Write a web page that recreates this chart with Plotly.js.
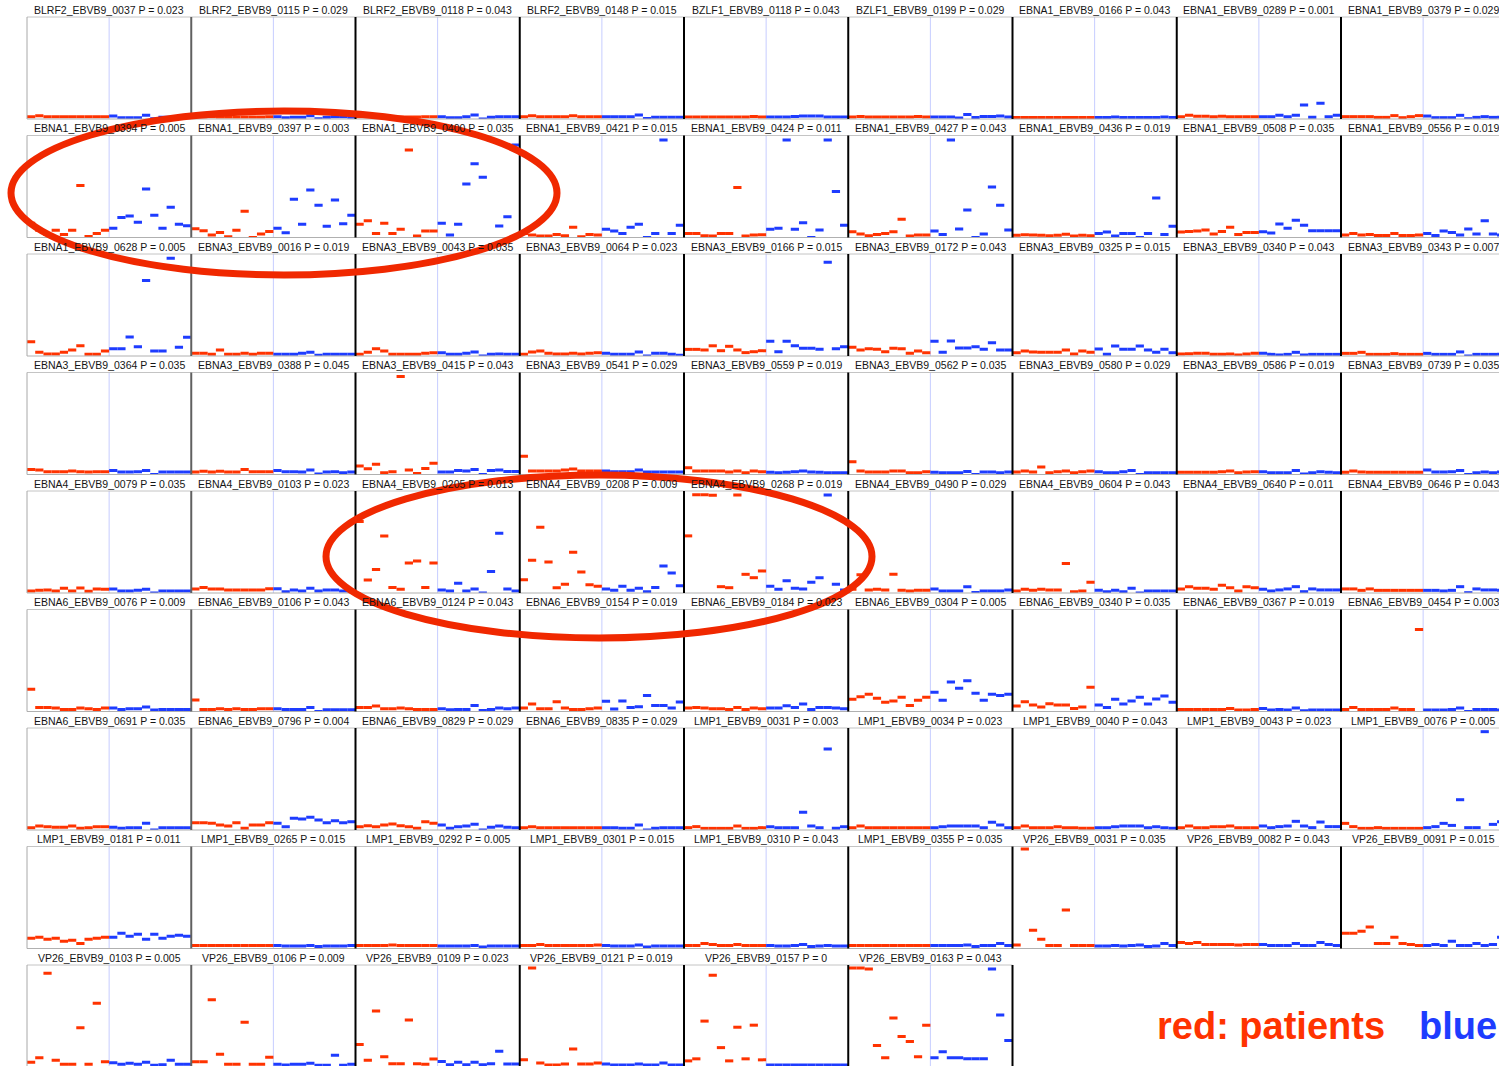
<!DOCTYPE html>
<html><head><meta charset="utf-8">
<script src="https://cdn.plot.ly/plotly-3.0.1.min.js"></script>
<style>html,body{margin:0;padding:0;background:#fff;overflow:hidden}#chart{width:1499px;height:1066px}</style>
</head><body><div id="chart"></div>
<script>
const probes = [
'BLRF2_EBVB9_0037','BLRF2_EBVB9_0115','BLRF2_EBVB9_0118','BLRF2_EBVB9_0148','BZLF1_EBVB9_0118','BZLF1_EBVB9_0199','EBNA1_EBVB9_0166','EBNA1_EBVB9_0289','EBNA1_EBVB9_0379',
'EBNA1_EBVB9_0394','EBNA1_EBVB9_0397','EBNA1_EBVB9_0400','EBNA1_EBVB9_0421','EBNA1_EBVB9_0424','EBNA1_EBVB9_0427','EBNA1_EBVB9_0436','EBNA1_EBVB9_0508','EBNA1_EBVB9_0556',
'EBNA1_EBVB9_0628','EBNA3_EBVB9_0016','EBNA3_EBVB9_0043','EBNA3_EBVB9_0064','EBNA3_EBVB9_0166','EBNA3_EBVB9_0172','EBNA3_EBVB9_0325','EBNA3_EBVB9_0340','EBNA3_EBVB9_0343',
'EBNA3_EBVB9_0364','EBNA3_EBVB9_0388','EBNA3_EBVB9_0415','EBNA3_EBVB9_0541','EBNA3_EBVB9_0559','EBNA3_EBVB9_0562','EBNA3_EBVB9_0580','EBNA3_EBVB9_0586','EBNA3_EBVB9_0739',
'EBNA4_EBVB9_0079','EBNA4_EBVB9_0103','EBNA4_EBVB9_0205','EBNA4_EBVB9_0208','EBNA4_EBVB9_0268','EBNA4_EBVB9_0490','EBNA4_EBVB9_0604','EBNA4_EBVB9_0640','EBNA4_EBVB9_0646',
'EBNA6_EBVB9_0076','EBNA6_EBVB9_0106','EBNA6_EBVB9_0124','EBNA6_EBVB9_0154','EBNA6_EBVB9_0184','EBNA6_EBVB9_0304','EBNA6_EBVB9_0340','EBNA6_EBVB9_0367','EBNA6_EBVB9_0454',
'EBNA6_EBVB9_0691','EBNA6_EBVB9_0796','EBNA6_EBVB9_0829','EBNA6_EBVB9_0835','LMP1_EBVB9_0031','LMP1_EBVB9_0034','LMP1_EBVB9_0040','LMP1_EBVB9_0043','LMP1_EBVB9_0076',
'LMP1_EBVB9_0181','LMP1_EBVB9_0265','LMP1_EBVB9_0292','LMP1_EBVB9_0301','LMP1_EBVB9_0310','LMP1_EBVB9_0355','VP26_EBVB9_0031','VP26_EBVB9_0082','VP26_EBVB9_0091',
'VP26_EBVB9_0103','VP26_EBVB9_0106','VP26_EBVB9_0109','VP26_EBVB9_0121','VP26_EBVB9_0157','VP26_EBVB9_0163'];

const pValues = [
'0.023','0.029','0.043','0.015','0.043','0.029','0.043','0.001','0.029',
'0.005','0.003','0.035','0.015','0.011','0.043','0.019','0.035','0.019',
'0.005','0.019','0.035','0.023','0.015','0.043','0.015','0.043','0.007',
'0.035','0.045','0.043','0.029','0.019','0.035','0.029','0.019','0.035',
'0.035','0.023','0.013','0.009','0.019','0.029','0.043','0.011','0.043',
'0.009','0.043','0.043','0.019','0.023','0.005','0.035','0.019','0.003',
'0.035','0.004','0.029','0.029','0.003','0.023','0.043','0.023','0.005',
'0.011','0.015','0.005','0.015','0.043','0.035','0.035','0.043','0.015',
'0.005','0.009','0.023','0.019','0','0.043'];

const patients = [
[2.3,3.3,2.3,2.3,2.3,2.3,2.3,2.3,2.3,2.3],[2,2,2.3,2,2,2,2,2,2,2.3],[2.3,2.3,2,2,2.3,2,2,2,2.3,2.3],[2.3,3.3,2.3,2.3,2.3,2.3,3.3,2.3,2.3,2.3],[2,2,2,2,2,2,2,2,2.5,2],[2,2.5,2,2,2,2,2,2,2.5,2],[1.5,1.5,1.5,1.5,1.5,1.5,1.5,1.5,1.5,1.5],[2.3,3.6,2.6,2.6,2.3,2.6,2.3,2.3,2.3,2.3],[2.3,2.3,2.3,2.3,1.6,1.6,3.3,1.3,2.3,3.3],
[14,7,3,7,3,7,51,1,4,7],[8.7,6.7,2.5,5,0.8,7,25.7,0,3.4,6],[12.9,16.5,4,13.9,4,8,85.8,1.5,6.4,6.4],[4,2.5,1.5,1.5,3,1.8,10,0.8,3,2.5],[4,4,1.8,1.5,4,4,49,1.5,2.5,2.8],[5.7,3.4,1.8,3,4,5.7,18,1.5,2.5,2.5],[2.1,2.8,2.5,2.1,1.8,2.1,3.1,1.5,2.1,1.8],[5.4,6,6.4,7.4,3.4,6,10,3,5,5],[2.5,4,2.5,3,2,2,3.8,2,2,2.5],
[14,3.6,2,2,3.6,6,10,1.6,1.6,5],[2.6,2.6,1.6,5.9,1.6,1.6,2.6,1.6,2.6,2.6],[1.6,3.6,7.2,5,1.6,1.6,1.6,1.6,2.6,3.3],[1.6,4,5,2.6,2,2,2.6,2,2.6,3.3],[6.5,6.5,5.9,10,5.2,9.5,5.9,3.3,4.2,5.2],[8.5,5.9,7.2,6.5,4.2,7.5,7.2,2.6,5,3.3],[3.3,5,4,3.6,3.6,3.6,5.9,2,5,3.6],[2,2.3,2.6,2.6,1.6,1.6,2,1,2,2.6],[2.6,2.6,3.6,1.6,1.6,1.6,2.3,1.6,1.6,1.6],
[5,4.4,2.8,2.8,2.8,3.4,2.8,2.5,2.8,2.8],[2.5,3.1,2.5,3.1,2.5,2.5,5,2.8,2.8,2.8],[8.3,5.7,10,1.8,2.8,96,4.4,1.1,6,11],[18,3.4,3.4,3.4,3.4,4.4,5.4,3.4,3.4,3.4],[6.7,3.4,3.4,3.4,3.4,2.5,3.4,1.8,3.4,2.8],[12.6,3.4,2.5,2.5,2.5,3.4,3.4,1.8,1.8,2.8],[2.5,3.4,2.5,7.4,1.8,2.8,3.4,1.8,2.8,3.4],[2.1,2.1,2.1,2.1,2.1,2.8,3.4,1.8,2.5,2.8],[2.1,3.4,2.5,2.1,2.1,2.1,2.1,2.1,2.1,2.1],
[2,2.6,3,2,4.6,2,4.9,1.6,4,3.6],[4,5.5,4,4,3,3,3,3,3,4.2],[70,12.7,23,56,5.5,3.6,29.4,31.4,5.5,29.4],[13,32,64.4,30.4,5.2,8.5,40,20.6,8,6.5],[56,96.4,96.4,95.8,6.2,5.2,96,18.3,15,21.6],[3.6,18,3,3.6,3,18.3,2.6,2,2.6,2.6],[2,3.6,2.6,3.6,3,3,29,1.3,2,10.5],[4,6.2,4.6,4.6,3.6,7.5,5.2,2,6.2,5.2],[4,4,2.6,4,2.6,2.6,2.6,2.6,2.6,2.6],
[21.7,4,4,3.4,2,2,3.4,2.8,2,3.4],[11.3,2,2,2.8,2,2.8,2,2,2.8,2.8],[4,4,5.4,2.8,2.8,3.4,2.8,2,2,2],[3.4,7.3,2.8,2.8,9.6,3.4,2,2,2.8,3.4],[3.4,4,3.4,2.8,2.8,2,4,2,3.4,2.8],[12,14.5,16.8,12.9,9,10.3,13.9,6,11,13.9],[5.4,9.6,6.4,4.4,7.7,6.4,6.4,3,4.4,23.7],[2,2,2,2,2,2,3,1.5,1.5,2],[2,4,2,2,2,2,3.4,2,2,80.5],
[2.3,4,3.3,2.6,2.6,4,1.6,2.3,3.3,3.3],[7.2,7.2,6.5,5,4,7.2,1.6,5,5,7.2],[3.3,4.2,3.3,4.9,5.9,4.2,3.3,1.6,8.2,6.5],[2.3,3.3,2.3,2.3,2.3,2.3,2.3,2.3,2.3,2.3],[2.3,3.3,1.6,1.6,1.6,1.6,3.9,1.6,1.6,2.3],[2.3,3.9,2.3,2.3,2.3,2.3,2.3,2.3,2.3,2.3],[2.3,3.9,2.3,2.3,2.3,3.3,2.3,2.3,1.6,1.6],[2.3,3.9,2.3,2.3,3.3,3.3,3.9,2.3,2.3,2.3],[6.5,3.3,1.6,1.6,2.3,1.6,1.6,1.6,1.6,1.6],
[10,11,9,10,7,8,5,9,10,11],[3,3,3,3,3,3,3,3,3,3],[3,3,3,3,3.5,3,3,3,3,3],[3,3,4,3,3,3,3,3,3,3.5],[3,3,5,4,3,3,4,3,3,3],[3,3,3,3,3,3,3,3,3,3],[3.4,97.5,18,9,3,3,37.7,3,3,3],[6,5,6,4,4,4,4,3.5,4,4],[15,15,17,21,5,5,11,5,4,3],
[4.6,9,91.8,6.5,2.6,2.6,38.6,2.6,62.4,5.2],[5.2,5.2,66,12.4,2.6,2.6,43.8,2.6,2.6,9.5],[22,6.5,55,10,3.3,3.3,46,3.3,2.6,7.8],[7,97,4,2,2,3,17.6,3,3,4],[6,8,45,90,19,6,39,8,41,7],[97,97,96,21,9,48,30,25,10,41]];

const controls = [
[2.9,1.3,1.3,1.3,3.6,0.3,1.6,1.6,1.6,1.6],[2.3,1.3,1.6,1.6,3.3,0.3,1.6,2.3,2.3,1.6],[2.3,1.3,1.3,2.3,3.9,0,1.6,2.3,2.3,2.3],[2.3,2.3,2.3,2.3,3.9,0.6,1.6,1.6,1.6,1.6],[2,2,2,2.5,3,3,3,2,2,2],[2,2,2,1,4.5,1.5,2.5,2.5,3,2],[1.5,1.5,2,1.5,1.5,1.5,1.5,1.5,2,1.5],[2.3,2.3,3.6,2.3,3.6,13.7,1.6,15.4,2.3,3.6],[2.9,1.3,1.3,1.3,3.6,0.3,1.6,2.3,1.6,1.6],
[9,19.5,21,15,47.5,21.7,9,29.6,13,11.6],[9,4.7,37.4,13,46.6,31.5,11,36.8,13.6,21.7],[13.9,2.5,12.9,52.4,72.4,59,95.6,11.3,20.4,90.7],[8,6.4,4,10,12.9,0,4,95.6,4,12],[8,9,95.6,8,14.5,0,7.4,95.6,45,12],[6.4,3,95.6,8.3,27,0,3.4,49.5,31.5,7.4],[4,5.4,1.5,4,4,0,4,38.7,3,11],[5.7,4.4,13.2,9,17,12,6.7,6.7,6.7,6.7],[3.8,2,6.4,5,2.5,8.3,3.4,16.5,3.4,2.5],
[7.2,7.2,18.6,9,74,5,5,95.8,8.5,18.3],[1.6,1.6,1.6,2.6,3.6,0.7,1.6,1.6,1.6,1.6],[3.3,1.6,1.6,2.6,4,0,1.6,2,1.6,1.6],[2.6,1.6,1.6,1.6,4,0,2.6,2.6,1.6,0.7],[14.4,4.2,14.4,10,7.5,7.5,6.5,91.8,7.2,9],[14.4,3.6,14.7,7.8,7.8,9,6.5,13,5.9,5.9],[6.9,1.6,9.8,6.5,6.5,9.8,5.9,3.6,6.5,3.3],[2.6,1.6,1,1.6,3.6,1,1.6,1.6,1.6,1.6],[2.6,1.6,1.6,1.6,4,0,1.6,1.6,1.6,1.6],
[3.8,2.5,2.5,2.8,4,0,2.5,2.5,2.5,2.5],[3.8,2.8,2.8,2.5,4.4,0.5,2.5,2.8,1.8,2.5],[2.5,2.5,4,3.4,5,0,4,4.4,3,3],[3.4,2.8,2.8,2.8,4.4,2.5,2.5,2.5,2.5,2.5],[2.1,1.8,2.1,2.8,3.4,2.5,2.1,1.8,1.8,1.8],[2.1,1.8,1.8,1.8,3,0,2.5,2.5,1.8,2.5],[2.8,1.8,1.8,2.8,3.8,0,1.8,1.8,1.8,1.8],[2.8,1.8,1.8,1.8,3.8,0.5,1.8,2.8,2.1,1.8],[4.4,2.5,2.5,2.8,4,0,1.8,2.5,1.8,2.5],
[4,2,2,2.6,3.6,0,2,2,2,2],[4.2,1.3,3,2,4.6,2,3,3,2,2],[3,2,9.5,2,4,0,21,58.5,4,2],[4,2.6,6.5,2.6,4.6,1.3,5.5,26.5,19.6,7.2],[6.5,3.6,12,4.6,4,10.5,15,96,8.5,3],[4,2,2,2,6.2,0.6,2,2,2,3],[2.6,1.3,2.6,1.3,4.6,0,2,2,2,2],[3.6,2,3,4,6.2,1.3,4,3,3,3],[2.6,2.6,2,2.6,6.2,0.3,4,3,3,2.6],
[3.4,2,2.8,2.8,4.4,1.5,2,2,2,2],[2.8,2,2,2,4,0,1.8,1.8,1.8,1.8],[2.8,1.8,2,2,6,1,2,3.4,2.8,3.4],[10,2.5,10.3,4,4.7,15.8,6,6,3.4,9.3],[3.4,3.4,5.7,4,7.3,2,4,4,3.4,2.8],[18.8,11,29,22.7,30.2,17.8,11,17,15.8,16.8],[6.4,3.8,12,7.3,10.3,13.9,7.3,12.3,15.2,9],[3,1.5,2,1.5,3.4,0.8,1.5,1.5,1.5,1.5],[1.5,1.5,1.5,2,3.4,0,2,2,2,1.5],
[2.6,1.6,2.3,2.3,6.5,0,2.3,2.3,2.3,2.3],[6.5,3.3,11.4,10.8,12.4,9.8,7.2,9,7.2,8.2],[4.9,1.6,3.3,3.9,5.6,0,2.6,3.9,2.6,2.3],[2.3,2.3,1.6,1.6,4.9,0,1.6,2.3,2.3,2.3],[3.3,2.3,2.3,2.3,17.3,3.9,2.3,79.4,1.6,3.3],[2.3,3.3,3.9,3.9,3.9,3.9,2.3,7.5,4.9,2.3],[2.3,2.3,3.3,3.9,3.9,3.9,2.3,3.3,2.3,1.6],[3.9,2.3,3.3,3.9,8.5,3.9,2.3,7.8,3.3,3.3],[2.3,3.3,6.5,4.5,29.7,2.3,2.3,96.4,5.5,8.2],
[11,15,12,14,9,14,10,12,13,12],[3,2.5,2.5,2.5,3,2,2.5,2.5,2.5,3],[2.5,2.5,2.5,2.5,3,1.5,2.5,2.5,2.5,2.5],[3,2.5,2.5,2.5,3.5,1.5,2.5,2.5,2.5,2.5],[3,2.5,2.5,3,4,2,2.5,3,2.5,2.5],[3,3,3,3,3.5,2,3,3,5,3],[2.5,2.5,3,2.5,3,3.5,2,2.5,5,3],[4,3,3,3,5,3,3,6,4,3],[3,4,3,7,3,3,5,3,4,11],
[4.2,2.6,3.6,2.6,4.6,1.6,2.3,6.5,2.6,2.6],[2.6,2,2.6,2.6,3.6,1.6,1.6,11.4,1.6,2.6],[5.5,2.3,4.6,2.3,4.6,2.3,3.3,15.4,3,3],[3,2,2,2,3,2,2,4,2,2],[2,2,2,2,2,2,2,2,2,2],[9,15,9,9,8,8,8,96,51,26]];

const legendLabels = ['red: patients', 'blue'];

// ---- layout geometry ----
const W = 1499, H = 1066, NCOL = 9;
const COL0 = 27, COLW = 164.25, ROW0 = 17, ROWH = 118.5, PH = 102;
const RED = '#ff3300', BLUE = '#1e3cff', RING = '#f02800';
const FONT = 'Liberation Sans, Arial, Helvetica, sans-serif';
const px = x => x / W, py = y => 1 - y / H;

const traces = [], shapes = [], annotations = [];
const layout = {
  width: W, height: H, margin: {l: 0, r: 0, t: 0, b: 0},
  paper_bgcolor: '#ffffff', plot_bgcolor: '#ffffff', showlegend: false,
  hovermode: false
};

function segments(vals, offset) {
  const x = [], y = [];
  vals.forEach((v, k) => { x.push(offset + k, offset + k + 1, null); y.push(v, v, null); });
  return {x, y};
}

probes.forEach((name, i) => {
  const r = Math.floor(i / NCOL), c = i % NCOL, n = i + 1;
  const suf = n > 1 ? String(n) : '';
  const left = COL0 + c * COLW, right = Math.min(left + COLW, W);
  const top = ROW0 + r * ROWH, bottom = top + PH, bot = Math.min(bottom, H);
  layout['xaxis' + suf] = {domain: [px(left), px(right)], range: [0, 20 * (right - left) / COLW],
    anchor: 'y' + suf, visible: false, fixedrange: true};
  layout['yaxis' + suf] = {domain: [py(bot), py(top)], range: [100 * (bottom - bot) / PH, 100],
    anchor: 'x' + suf, visible: false, fixedrange: true};
  const pr = segments(patients[i], 0), ct = segments(controls[i], 10);
  traces.push({type: 'scatter', mode: 'lines', x: pr.x, y: pr.y, xaxis: 'x' + suf, yaxis: 'y' + suf,
    line: {color: RED, width: 3}, hoverinfo: 'skip', connectgaps: false});
  traces.push({type: 'scatter', mode: 'lines', x: ct.x, y: ct.y, xaxis: 'x' + suf, yaxis: 'y' + suf,
    line: {color: BLUE, width: 3}, hoverinfo: 'skip', connectgaps: false});
  shapes.push({type: 'line', xref: 'x' + suf, yref: 'paper', x0: 10, x1: 10, y0: py(bot), y1: py(top),
    line: {color: '#c6cdff', width: 1}, layer: 'below'});
  shapes.push({type: 'line', xref: 'paper', yref: 'paper', x0: px(left), x1: px(right), y0: py(top), y1: py(top),
    line: {color: '#c4c4c4', width: 1}, layer: 'above'});
  shapes.push({type: 'line', xref: 'paper', yref: 'paper', x0: px(left), x1: px(right), y0: py(bottom), y1: py(bottom),
    line: {color: '#b0b0b0', width: 1}, layer: 'above'});
  const lc = c === 0 ? '#a8a8a8' : (c === 1 ? '#606060' : '#000000');
  const lw = c === 0 ? 1 : 2;
  shapes.push({type: 'line', xref: 'paper', yref: 'paper', x0: px(left), x1: px(left), y0: py(bot), y1: py(top),
    line: {color: lc, width: lw}, layer: 'above'});
  annotations.push({text: name + ' P = ' + pValues[i], xref: 'paper', yref: 'paper',
    x: px(left + COLW / 2), y: py(top - 7.1), xanchor: 'center', yanchor: 'middle', showarrow: false,
    font: {family: FONT, size: 10.5, color: '#151515'}});
});

(function () {
  const last = probes.length - 1, r = Math.floor(last / NCOL), c = last % NCOL + 1;
  const x = COL0 + c * COLW, top = ROW0 + r * ROWH;
  shapes.push({type: 'line', xref: 'paper', yref: 'paper', x0: px(x), x1: px(x), y0: py(Math.min(top + PH, H)), y1: py(top),
    line: {color: '#000000', width: 2}, layer: 'above'});
})();

shapes.push({type: 'circle', xref: 'paper', yref: 'paper', x0: px(11), x1: px(557), y0: py(275), y1: py(111),
  line: {color: RING, width: 7}, fillcolor: 'rgba(0,0,0,0)', layer: 'above'});
shapes.push({type: 'circle', xref: 'paper', yref: 'paper', x0: px(326), x1: px(872), y0: py(638), y1: py(475),
  line: {color: RING, width: 7}, fillcolor: 'rgba(0,0,0,0)', layer: 'above'});

annotations.push({text: legendLabels[0], xref: 'paper', yref: 'paper', x: px(1155), y: py(1026),
  xanchor: 'left', yanchor: 'middle', showarrow: false, font: {family: FONT, size: 38, color: RED, weight: 700}});
annotations.push({text: legendLabels[1], xref: 'paper', yref: 'paper', x: px(1417), y: py(1026),
  xanchor: 'left', yanchor: 'middle', showarrow: false, font: {family: FONT, size: 38, color: BLUE, weight: 700}});

layout.shapes = shapes;
layout.annotations = annotations;
Plotly.newPlot('chart', traces, layout, {staticPlot: true, displayModeBar: false});
</script></body></html>
